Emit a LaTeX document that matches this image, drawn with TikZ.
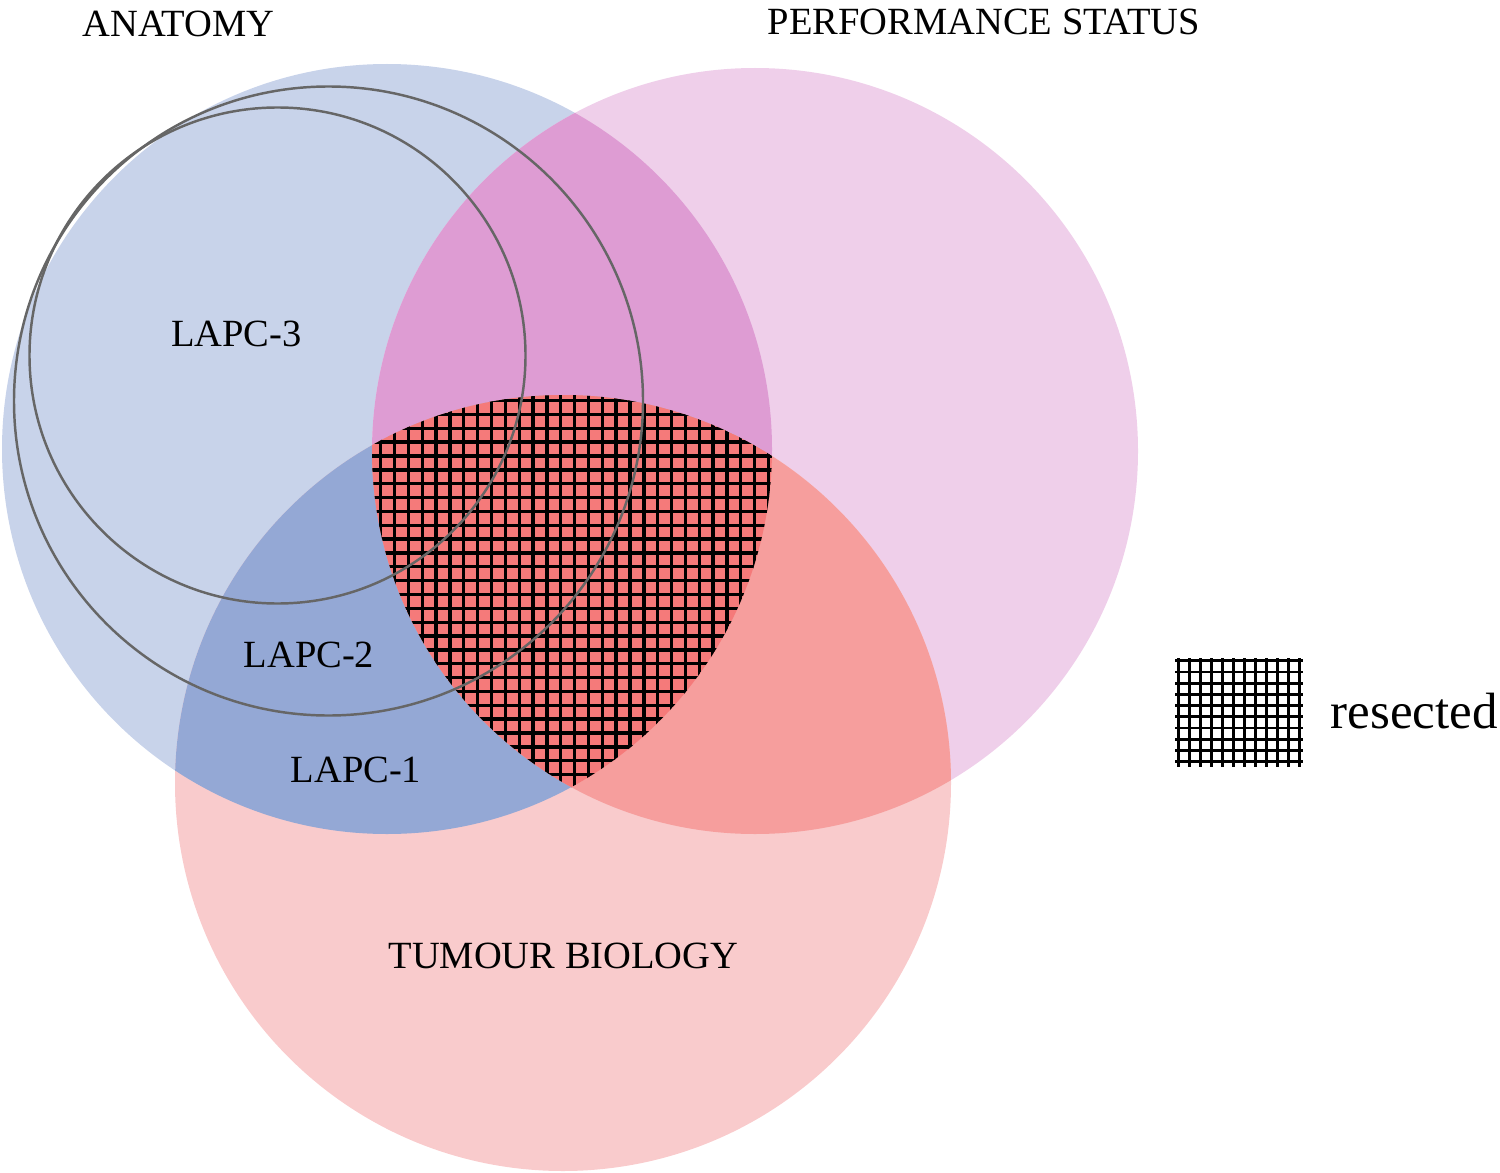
\documentclass[tikz,border=0pt]{standalone}
\usepackage{fontspec}
\setmainfont{Liberation Serif}
\definecolor{colA}{HTML}{C8D3EA}
\definecolor{colP}{HTML}{EFCFEA}
\definecolor{colT}{HTML}{F9CBCC}
\definecolor{colAP}{HTML}{DE9CD3}
\definecolor{colAT}{HTML}{94A8D5}
\definecolor{colPT}{HTML}{F69E9D}
\definecolor{colAPT}{HTML}{F57A7A}
\definecolor{lapcgray}{HTML}{666666}
\begin{document}
\begin{tikzpicture}[x=0.01cm,y=-0.01cm,
  lbl/.style={anchor=base,inner sep=0pt,font=\fontsize{10.95pt}{12pt}\selectfont},
  leglbl/.style={anchor=base west,inner sep=0pt,font=\fontsize{14.5pt}{16pt}\selectfont},
  lapc/.style={draw=lapcgray,line width=0.7pt},
  gridline/.style={line width=0.95pt,black},
  leggrid/.style={line width=0.8pt,black}]
\useasboundingbox (0,0) rectangle (1500,1173);
\coordinate (cA) at (387,449);
\coordinate (cP) at (755,451);
\coordinate (cT) at (563,783);
\coordinate (cL2) at (328.5,401);
\coordinate (cL3) at (277.5,355.5);
% base fills
\fill[colA] (cA) circle[radius=385];
\fill[colP] (cP) circle[radius=383];
\fill[colT] (cT) circle[radius=388];
% pairwise overlaps
\begin{scope}
  \clip (cA) circle[radius=385];
  \fill[colAP] (cP) circle[radius=383];
\end{scope}
\begin{scope}
  \clip (cA) circle[radius=385];
  \fill[colAT] (cT) circle[radius=388];
\end{scope}
\begin{scope}
  \clip (cP) circle[radius=383];
  \fill[colPT] (cT) circle[radius=388];
\end{scope}
% triple overlap with grid
\begin{scope}
  \clip (cA) circle[radius=385];
  \clip (cP) circle[radius=383];
  \clip (cT) circle[radius=388];
  \fill[colAPT] (cT) circle[radius=388];
  \foreach \i in {0,...,32} {
    \draw[gridline] ({366.85+13.85*\i},380) -- ({366.85+13.85*\i},800);
    \draw[gridline] (360,{386.75+13.85*\i}) -- (790,{386.75+13.85*\i});
  }
\end{scope}
% LAPC circles
\draw[lapc] (cL2) circle[radius=314.5];
\draw[lapc] (cL3) circle[radius=248];
% legend grid
\coordinate (leg) at (1178.3,660.7);
\foreach \i in {0,...,11} {
  \draw[leggrid] ([shift={({11*\i},-2.7)}]leg) -- ([shift={({11*\i},106.3)}]leg);
}
\foreach \j in {0,...,9} {
  \draw[leggrid] ([shift={(-3.3,{11.22*\j})}]leg) -- ([shift={(124.7,{11.22*\j})}]leg);
}
% labels
\node[lbl] (anat) at (178.5,37) {ANATOMY};
\node[lbl] (perf) at (984,35) {PERFORMANCE STATUS};
\node[lbl] (l3) at (236.5,347) {LAPC-3};
\node[lbl] (l2) at (309,667) {LAPC-2};
\node[lbl] (l1) at (356,782) {LAPC-1};
\node[lbl] (tumour) at (563.5,968) {TUMOUR BIOLOGY};
\node[leglbl] (res) at (1330,728) {resected};
\end{tikzpicture}
\end{document}
